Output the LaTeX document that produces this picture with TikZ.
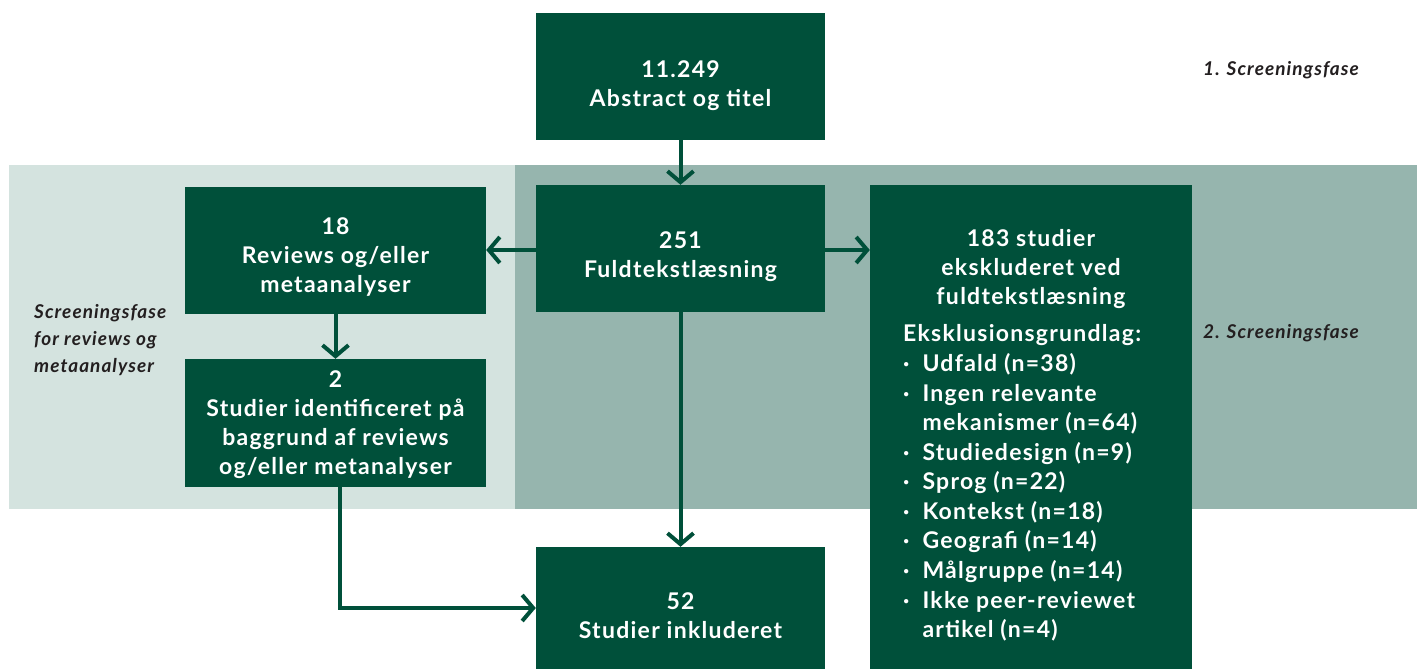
\documentclass[tikz,border=0pt]{standalone}
\usepackage{fontspec}
\setmainfont{Lato}[UprightFont=* Bold, ItalicFont=* Bold Italic, BoldFont=* Black, LetterSpace=5.5]
\usetikzlibrary{arrows.meta}
\definecolor{dgreen}{HTML}{00503A}
\definecolor{lband}{HTML}{D4E3DF}
\definecolor{dband}{HTML}{96B5AE}
\definecolor{labtxt}{HTML}{231F20}
\tikzset{
  box/.style={fill=dgreen, inner sep=0pt},
  boxtxt/.style={text=white, align=center, inner sep=0pt, font=\fontsize{23}{29}\selectfont},
  conn/.style={draw=dgreen, line width=4pt, -{Straight Barb[length=11pt,width=26pt]}},
  phase/.style={text=labtxt, font=\fontsize{19}{27}\selectfont\itshape, inner sep=0pt},
}
\begin{document}
\begin{tikzpicture}[x=1pt,y=-1pt]
\useasboundingbox (0,0) rectangle (1422,669);
\fill[white] (0,0) rectangle (1422,669);
\fill[lband] (9,165) rectangle (515,509);
\fill[dband] (515,165) rectangle (1417,509);

\node[box, minimum width=289pt, minimum height=127pt] (abs) at (680.5,76.5) {};
\node[box, minimum width=289pt, minimum height=127pt] (full) at (680.5,248.5) {};
\node[box, minimum width=301pt, minimum height=127pt] (rev) at (335.5,250.5) {};
\node[box, minimum width=301pt, minimum height=128pt] (ident) at (335.5,423) {};
\node[box, minimum width=289pt, minimum height=122pt] (incl) at (680.5,608) {};
\node[box, minimum width=322pt, minimum height=484pt] (excl) at (1031,427) {};

\node[boxtxt] (abstxt) at ([yshift=-9pt]abs.center) {11.249\\Abstract og titel};
\node[boxtxt] (fulltxt) at ([yshift=-8pt]full.center) {251\\Fuldtekstlæsning};
\node[boxtxt] (revtxt) at ([yshift=-7pt]rev.center) {18\\Reviews og/eller\\metaanalyser};
\node[boxtxt] (identtxt) at ([yshift=-2pt]ident.center) {2\\Studier identificeret på\\baggrund af reviews\\og/eller metanalyser};
\node[boxtxt] (incltxt) at ([yshift=-8pt]incl.center) {52\\Studier inkluderet};

\node[boxtxt, anchor=north] (exhead) at (1031,229) {183 studier\\ekskluderet ved\\fuldtekstlæsning};
\node[boxtxt, anchor=north west, align=left] (exlist) at (903,321)
{\renewcommand{\arraystretch}{1.02}%
\begin{tabular}{@{}l@{\hspace{13pt}}l@{}}
\multicolumn{2}{@{}l@{}}{Eksklusionsgrundlag:}\\
·&Udfald (n=38)\\
·&Ingen relevante\\
 &mekanismer (n=64)\\
·&Studiedesign (n=9)\\
·&Sprog (n=22)\\
·&Kontekst (n=18)\\
·&Geografi (n=14)\\
·&Målgruppe (n=14)\\
·&Ikke peer-reviewet\\
 &artikel (n=4)
\end{tabular}};

\node[phase, anchor=west] (ph1) at (1203,70) {1. Screeningsfase};
\node[phase, anchor=west] (ph2) at (1203,333) {2. Screeningsfase};
\node[phase, anchor=west, align=left] (ph3) at (34,340) {Screeningsfase\\for reviews og\\metaanalyser};

\draw[conn] (abs.south) -- (full.north);
\draw[conn] (full.west |- 0,250) -- (rev.east |- 0,250);
\draw[conn] (full.east |- 0,250) -- (excl.west |- 0,250);
\draw[conn] (rev.south) -- (ident.north);
\draw[conn] (full.south) -- (incl.north);
\coordinate (bend) at (340,608);
\draw[conn] (ident.south -| bend) -- (bend) -- (incl.west |- bend);
\end{tikzpicture}
\end{document}
